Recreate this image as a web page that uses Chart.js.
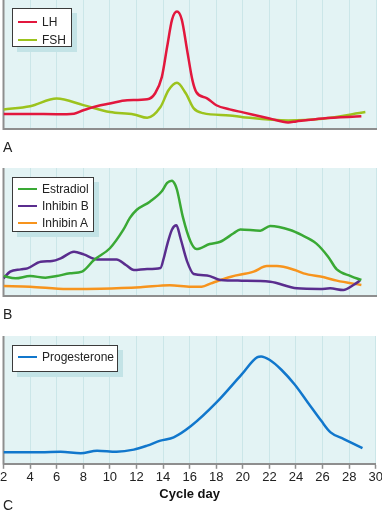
<!DOCTYPE html>
<html>
<head>
<meta charset="utf-8">
<script src="https://cdn.jsdelivr.net/npm/chart.js@4.4.1/dist/chart.umd.min.js"></script>
<style>
  html, body {
    margin: 0;
    padding: 0;
    width: 382px;
    height: 511px;
    overflow: hidden;
    background: #fff;
    font-family: "Liberation Sans", Arial, sans-serif;
  }
  .painel { position: absolute; left: -5px; width: 389px; }
  .letra { position: absolute; left: 3px; font-size: 14px; color: #222; line-height: 16px; }
  .legenda {
    position: absolute;
    left: 12px;
    background: #fff;
    border: 1px solid #3a3a3a;
    box-shadow: 5px 5px 0 #c3e3e6;
    font-size: 12px;
    color: #222;
    box-sizing: border-box;
  }
  .legenda div { white-space: nowrap; }
  .legenda span.traco {
    display: inline-block;
    width: 19px;
    height: 2.5px;
    vertical-align: middle;
    margin: -2px 5px 0 5px;
  }
</style>
</head>
<body>

<div class="painel" style="top:0px;height:131px"><canvas id="graficoA"></canvas></div>
<div class="painel" style="top:168px;height:130px"><canvas id="graficoB"></canvas></div>
<div class="painel" style="top:336px;height:167px"><canvas id="graficoC"></canvas></div>

<div class="legenda" style="top:8px;width:60px;height:39px;padding-top:4px">
  <div style="line-height:18px"><span class="traco" style="background:#e2173d"></span>LH</div>
  <div style="line-height:18px"><span class="traco" style="background:#9cc31d"></span>FSH</div>
</div>
<div class="legenda" style="top:177px;width:82px;height:55px;padding-top:3px">
  <div style="line-height:17px"><span class="traco" style="background:#3aa935"></span>Estradiol</div>
  <div style="line-height:17px"><span class="traco" style="background:#5a2d8e"></span>Inhibin B</div>
  <div style="line-height:17px"><span class="traco" style="background:#f7941d"></span>Inhibin A</div>
</div>
<div class="legenda" style="top:345px;width:106px;height:27px;padding-top:3px">
  <div style="line-height:17px"><span class="traco" style="background:#1177cc"></span>Progesterone</div>
</div>

<div class="letra" style="top:139px">A</div>
<div class="letra" style="top:306px">B</div>
<div class="letra" style="top:497px">C</div>

<script>
// --- dados (dia do ciclo / nível relativo 0-100) ---
const lhDias = [2, 4, 6, 7.3, 8, 9, 10, 11.3, 12.8, 13.4, 13.9, 14.3, 14.67, 15.04, 15.4, 15.8, 16.2, 16.5, 17.3, 18, 19, 20, 22, 23.4, 24, 26, 28.9];
const lhValores = [11.7, 11.7, 11.5, 11.9, 14.5, 17.6, 19.7, 22.3, 23, 27.7, 40.2, 63.7, 84.8, 91, 84.8, 61.3, 37.9, 28.5, 23.8, 18.4, 15.2, 12.9, 8.2, 5.1, 5.9, 8.2, 9.8];

const fshDias = [2, 4, 6, 8, 10, 11.8, 12.8, 13.8, 14.4, 15.04, 15.7, 16.3, 17, 19, 20, 23.4, 26, 29.2];
const fshValores = [15.2, 17.6, 23.6, 18.5, 13.1, 11.3, 8.7, 17, 30, 35.8, 27.7, 16, 12.3, 10.5, 9.2, 6.6, 8, 13.1];

const estradiolDias = [2, 2.9, 4, 5.15, 6, 7, 7.9, 8.8, 10, 11, 11.5, 12, 13, 13.9, 14.3, 14.66, 14.9, 15.04, 15.5, 16.04, 16.5, 17.5, 18.3, 19.3, 19.8, 21.3, 22.05, 23.55, 24.4, 25.5, 26.4, 27.05, 28.1, 28.9];
const estradiolValores = [15.6, 13.8, 15.6, 14.3, 15.6, 17.7, 19, 28.1, 37.3, 51.6, 61, 67.2, 73.7, 81.8, 88.3, 90, 87, 83, 61, 43, 36.7, 40.6, 42.4, 49, 52, 51, 54.7, 51.6, 47.7, 41.1, 30.7, 20.8, 15.6, 12.5];

const inibinaBDias = [2, 2.5, 3.3, 3.8, 4.8, 5.65, 6.3, 7.3, 8.03, 9.04, 10.5, 11.2, 11.8, 12.8, 13.8, 14.05, 14.3, 14.66, 15, 15.3, 15.8, 16.3, 17.3, 18.3, 19.9, 22.05, 24.05, 25.8, 26.55, 27.55, 28.3, 28.8];
const inibinaBValores = [13.8, 19, 20.8, 21.6, 26.8, 27.3, 29.4, 34.6, 32.5, 28.6, 28.6, 24.2, 20.3, 21.1, 21.9, 29.7, 40, 51.8, 55.2, 45.3, 27.1, 17.2, 16.1, 12.5, 12, 11.2, 6, 5.5, 6, 4.7, 8.6, 12];

const inibinaADias = [2, 4, 6.8, 9.3, 12.3, 14.5, 16.1, 16.9, 17.6, 18.3, 19.1, 20.8, 21.8, 22.55, 23.9, 24.55, 26.1, 27.05, 28.9];
const inibinaAValores = [7.8, 7.3, 5.5, 5.7, 6.8, 8.4, 7.3, 7.3, 9.9, 12.5, 15.1, 19, 23.4, 23.4, 20.3, 17.7, 14.6, 12, 8.6];

const progDias = [2, 4.8, 6.3, 7.8, 9.04, 10.5, 11.8, 12.8, 13.8, 14.8, 16.1, 18, 19.9, 21.1, 21.37, 22, 22.9, 23.9, 24.9, 25.9, 26.6, 27.6, 29];
const progValores = [9.1, 9.1, 9.5, 8.3, 10.3, 9.5, 11.1, 14.2, 18.1, 20.7, 29.5, 47.8, 69.8, 83.5, 84, 81.4, 73.6, 62, 47.8, 33.6, 24.6, 19.4, 12.2];

const diasTicks = [2, 4, 6, 8, 10, 12, 14, 16, 18, 20, 22, 24, 26, 28, 30];

const corEixo = "#8e8e8e";
const corGrade = "#cbe6e8";
const fonte = '"Liberation Sans", Arial, sans-serif';

function pontos(dias, valores) {
  return dias.map((d, i) => ({ x: d, y: valores[i] }));
}

function serie(nome, dias, valores, cor) {
  return {
    label: nome,
    data: pontos(dias, valores),
    borderColor: cor,
    borderWidth: 2.5,
    pointRadius: 0,
    fill: false,
    cubicInterpolationMode: "monotone",
  };
}

// fundo ciano + eixo esquerdo
const fundo = {
  id: "fundo",
  beforeDraw(chart) {
    const { ctx, chartArea: a } = chart;
    ctx.save();
    ctx.fillStyle = "#e3f3f4";
    ctx.fillRect(a.left, a.top, a.right - a.left, a.bottom - a.top);
    ctx.restore();
  },
  beforeDatasetsDraw(chart) {
    const { ctx, chartArea: a } = chart;
    ctx.save();
    ctx.strokeStyle = corEixo;
    ctx.lineWidth = 2;
    ctx.beginPath();
    ctx.moveTo(a.left, a.top);
    ctx.lineTo(a.left, a.bottom + 1);
    ctx.stroke();
    ctx.restore();
  },
};

function criarGrafico(id, conjuntos, comEixo) {
  const eixoX = {
    type: "linear",
    min: 2,
    max: 30,
    afterBuildTicks: (s) => { s.ticks = diasTicks.map((v) => ({ value: v })); },
    ticks: { display: false },
    grid: { color: corGrade, lineWidth: 1, drawTicks: false },
    border: { color: corEixo, width: 2 },
  };
  if (comEixo) {
    eixoX.ticks = {
      display: true,
      padding: 1,
      color: "#222",
      maxRotation: 0,
      autoSkip: false,
      font: { size: 13, family: fonte },
    };
    eixoX.grid = { color: corGrade, lineWidth: 1, drawTicks: true, tickLength: 5, tickColor: corEixo, tickWidth: 1.5 };
    eixoX.title = {
      display: true,
      text: "Cycle day",
      color: "#111",
      font: { size: 13, weight: "bold", family: fonte },
      padding: { top: 0, bottom: 1 },
    };
  }

  return new Chart(document.getElementById(id), {
    type: "line",
    data: { datasets: conjuntos },
    options: {
      responsive: true,
      maintainAspectRatio: false,
      animation: false,
      layout: { padding: { left: 8.5, right: 8, top: 0, bottom: comEixo ? 0 : 2 } },
      plugins: { legend: { display: false }, tooltip: { enabled: false } },
      scales: {
        x: eixoX,
        y: { min: 0, max: 100, display: false },
      },
    },
    plugins: [fundo],
  });
}

criarGrafico("graficoA", [
  serie("LH", lhDias, lhValores, "#e2173d"),
  serie("FSH", fshDias, fshValores, "#9cc31d"),
], false);

criarGrafico("graficoB", [
  serie("Estradiol", estradiolDias, estradiolValores, "#3aa935"),
  serie("Inhibin B", inibinaBDias, inibinaBValores, "#5a2d8e"),
  serie("Inhibin A", inibinaADias, inibinaAValores, "#f7941d"),
], false);

criarGrafico("graficoC", [
  serie("Progesterone", progDias, progValores, "#1177cc"),
], true);
</script>
</body>
</html>
